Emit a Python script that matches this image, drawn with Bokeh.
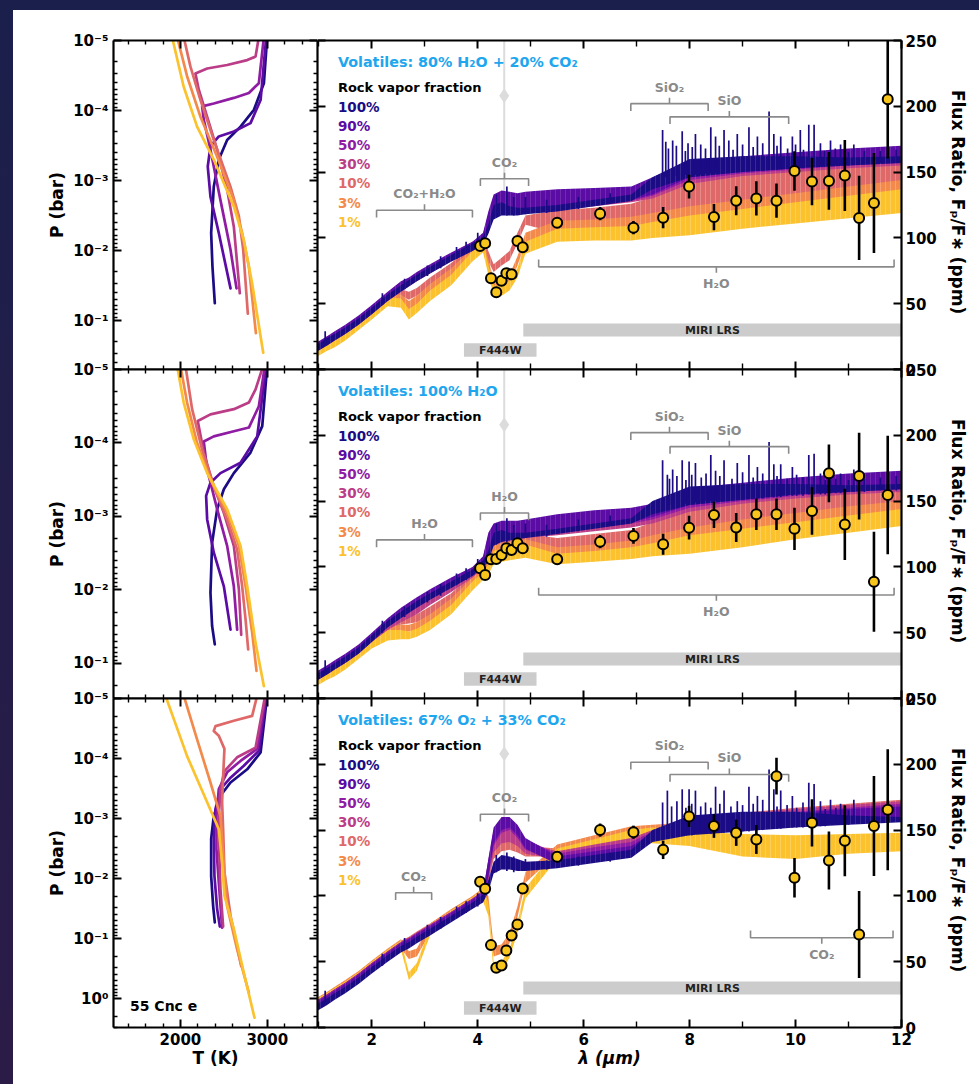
import numpy as np
from bokeh.plotting import figure
from bokeh.layouts import column, row
from bokeh.models import (Range1d, LinearAxis, LogAxis, FixedTicker,
                          CustomJSTickFormatter, Spacer, Label)
from bokeh.core.properties import value
from bokeh.embed import file_html
from bokeh.resources import INLINE

FONT = "DejaVu Sans"
FRACTIONS = ["100%", "90%", "50%", "30%", "10%", "3%", "1%"]
COLORS = ["#1b0c85", "#5b0ca4", "#8f1ca3", "#bc3d87", "#df6969", "#f38a4b", "#fbc22d"]
VOLATILES = ["Volatiles: 80% H\u2082O + 20% CO\u2082",
             "Volatiles: 100% H\u2082O",
             "Volatiles: 67% O\u2082 + 33% CO\u2082"]

# ---------------- pressure-temperature profiles (T in K, log10 P in bar)
TP1_T = [
    [2999, 2961, 2846, 2692, 2538, 2442, 2384, 2354, 2369, 2396],
    [2988, 2923, 2807, 2615, 2442, 2346, 2315, 2346, 2442, 2577],
    [2961, 2903, 2788, 2615, 2384, 2250, 2269, 2346, 2461, 2577, 2646],
    [2903, 2865, 2769, 2538, 2308, 2173, 2211, 2308, 2423, 2538, 2615, 2684],
    [2038, 2115, 2231, 2384, 2577, 2673, 2723, 2776],
    [1962, 2077, 2231, 2423, 2615, 2711, 2788, 2869],
    [1904, 2038, 2192, 2384, 2615, 2730, 2826, 2953],
]
TP1_LOGP = [
    [-5.05, -4.39, -4.01, -3.77, -3.58, -3.30, -2.91, -2.25, -1.77, -1.25],
    [-5.05, -4.15, -3.82, -3.70, -3.63, -3.49, -3.20, -2.77, -2.25, -1.46],
    [-5.05, -4.39, -4.25, -4.18, -4.10, -4.06, -3.87, -3.44, -2.72, -2.01, -1.46],
    [-5.05, -4.77, -4.72, -4.65, -4.60, -4.53, -4.30, -3.91, -3.44, -2.87, -2.34, -1.39],
    [-5.05, -4.63, -4.15, -3.58, -2.91, -2.49, -2.01, -1.10],
    [-5.05, -4.49, -3.91, -3.34, -2.72, -2.25, -1.77, -0.82],
    [-5.05, -4.34, -3.77, -3.30, -2.63, -2.15, -1.53, -0.54],
]
TP2_T = [
    [2999, 2942, 2807, 2615, 2500, 2423, 2365, 2346, 2365, 2396],
    [2988, 2884, 2692, 2461, 2346, 2296, 2308, 2384, 2500, 2577],
    [2972, 2903, 2788, 2615, 2384, 2269, 2308, 2423, 2538, 2615, 2653],
    [2953, 2865, 2788, 2615, 2346, 2200, 2269, 2384, 2500, 2615, 2673, 2700],
    [2058, 2135, 2250, 2384, 2538, 2653, 2711, 2750, 2780],
    [2000, 2077, 2192, 2346, 2538, 2673, 2750, 2826, 2876],
    [1962, 2038, 2154, 2308, 2538, 2692, 2769, 2865, 2961],
]
TP2_LOGP = [
    [-5.05, -4.23, -3.87, -3.59, -3.37, -3.10, -2.64, -1.96, -1.51, -1.26],
    [-5.05, -4.09, -3.73, -3.59, -3.46, -3.28, -2.96, -2.51, -2.05, -1.46],
    [-5.05, -4.50, -4.21, -4.16, -4.09, -4.02, -3.64, -3.10, -2.60, -2.05, -1.46],
    [-5.05, -4.73, -4.55, -4.46, -4.39, -4.30, -3.87, -3.41, -3.05, -2.60, -2.01, -1.39],
    [-5.05, -4.46, -3.91, -3.41, -2.96, -2.55, -2.05, -1.60, -1.19],
    [-5.05, -4.55, -4.00, -3.50, -3.05, -2.60, -2.05, -1.42, -0.90],
    [-5.05, -4.55, -4.05, -3.59, -3.10, -2.60, -2.05, -1.28, -0.69],
]
TP3_T = [
    [2999, 2923, 2769, 2577, 2461, 2384, 2354, 2354, 2377, 2396],
    [2992, 2903, 2730, 2577, 2461, 2404, 2384, 2392, 2423, 2454],
    [2984, 2884, 2692, 2538, 2442, 2415, 2415, 2442, 2480],
    [2976, 2865, 2653, 2507, 2461, 2442, 2446, 2461, 2492],
    [2884, 2826, 2615, 2404, 2384, 2442, 2507, 2492, 2480, 2492, 2507, 2577, 2700],
    [2038, 2192, 2346, 2461, 2492, 2538, 2653, 2788],
    [1827, 2077, 2308, 2442, 2480, 2507, 2615, 2730, 2853],
]
TP3_LOGP = [
    [-5.05, -4.10, -3.82, -3.60, -3.38, -3.04, -2.66, -2.04, -1.54, -1.27],
    [-5.05, -4.13, -3.88, -3.68, -3.49, -3.16, -2.66, -2.04, -1.49, -1.20],
    [-5.05, -4.16, -3.96, -3.77, -3.49, -3.04, -2.49, -1.93, -1.18],
    [-5.05, -4.18, -4.02, -3.79, -3.49, -3.04, -2.49, -1.82, -1.20],
    [-5.05, -4.71, -4.63, -4.54, -4.46, -4.38, -4.16, -3.71, -3.27, -2.82, -2.10, -1.38, -0.54],
    [-5.05, -4.32, -3.60, -3.04, -2.38, -1.54, -0.82, -0.10],
    [-5.05, -4.04, -3.27, -2.82, -2.27, -1.71, -1.16, -0.43, 0.32],
]
P_BOTTOM = [0.50, 0.30, 3.04]

# ---------------- model emission spectra: lower / upper envelope (ppm)
WL = [0.98, 1.15, 1.3, 1.5, 1.75, 2.0, 2.3, 2.55, 2.7, 2.85, 3.1, 3.5, 3.9,
      4.1, 4.2, 4.3, 4.45, 4.6, 4.75, 4.9, 5.5, 6.2, 6.9, 7.3, 8.0, 9.0,
      10.0, 11.0, 12.0]

SPEC1_LO = [
    [14, 18, 22, 27, 34, 42, 52, 59, 63, 67, 73, 82, 90, 95, 103, 114, 117, 117, 117, 118, 120, 124, 128, 137, 146, 150, 153, 155, 157],
    [15, 19, 23, 28, 35, 43, 53, 60, 64, 68, 74, 83, 91, 96, 108, 120, 122, 122, 122, 122, 123, 126, 129, 133, 146, 150, 153, 156, 158],
    [15, 19, 23, 28, 35, 43, 53, 60, 64, 68, 74, 83, 91, 96, 107, 119, 121, 121, 121, 121, 122, 125, 128, 132, 144, 149, 152, 155, 157],
    [14, 18, 22, 27, 34, 42, 52, 59, 63, 67, 73, 82, 90, 95, 104, 116, 119, 119, 119, 120, 121, 124, 127, 130, 141, 147, 150, 153, 155],
    [13, 17, 21, 26, 33, 41, 53, 56, 53, 56, 63, 74, 88, 96, 82, 74, 79, 83, 96, 110, 104, 105, 106, 108, 112, 118, 122, 126, 130],
    [12, 16, 20, 25, 32, 40, 51, 52, 45, 49, 58, 70, 85, 92, 76, 60, 59, 64, 79, 96, 101, 102, 103, 105, 107, 112, 116, 120, 124],
    [10, 14, 17, 22, 30, 38, 48, 47, 38, 43, 52, 64, 82, 89, 72, 56, 56, 60, 70, 88, 97, 98, 98, 100, 102, 107, 111, 115, 119],
]
SPEC1_HI = [
    [19, 24, 27, 32, 39, 47, 57, 64, 68, 72, 78, 87, 96, 101, 110, 125, 127, 124, 123, 123, 125, 129, 133, 146, 160, 162, 162, 161, 162],
    [21, 25, 29, 34, 41, 49, 59, 67, 70, 74, 80, 89, 97, 104, 120, 133, 136, 135, 134, 135, 137, 138, 139, 146, 158, 162, 165, 168, 170],
    [20, 24, 28, 33, 40, 48, 58, 66, 69, 73, 79, 88, 96, 103, 118, 131, 134, 133, 132, 133, 135, 136, 137, 143, 155, 160, 163, 166, 168],
    [20, 25, 28, 33, 40, 48, 58, 65, 69, 73, 79, 88, 97, 102, 116, 129, 132, 131, 130, 131, 132, 134, 135, 140, 152, 158, 161, 164, 166],
    [19, 24, 27, 32, 39, 47, 58, 61, 59, 62, 70, 81, 95, 102, 90, 80, 85, 90, 104, 117, 121, 123, 126, 131, 143, 148, 151, 154, 157],
    [18, 22, 26, 31, 38, 46, 57, 57, 52, 56, 65, 77, 92, 99, 84, 68, 66, 72, 86, 104, 113, 114, 116, 119, 124, 129, 134, 139, 144],
    [16, 21, 24, 29, 37, 45, 55, 54, 46, 50, 60, 72, 90, 96, 80, 64, 63, 68, 77, 97, 107, 108, 109, 112, 117, 122, 127, 132, 137],
]
SPEC2_LO = [
    [14, 18, 22, 27, 34, 43, 54, 61, 65, 69, 75, 84, 93, 99, 104, 116, 119, 120, 121, 122, 125, 129, 133, 140, 147, 151, 155, 157, 159],
    [15, 19, 23, 28, 35, 44, 55, 62, 66, 70, 76, 85, 94, 100, 110, 121, 123, 123, 124, 125, 127, 131, 134, 138, 147, 151, 155, 158, 160],
    [15, 19, 23, 28, 35, 44, 55, 62, 66, 70, 76, 85, 94, 100, 108, 119, 122, 122, 123, 124, 126, 130, 133, 136, 145, 150, 154, 157, 159],
    [14, 18, 22, 27, 34, 43, 52, 58, 61, 64, 71, 81, 92, 99, 106, 117, 120, 120, 121, 122, 124, 127, 130, 133, 142, 148, 152, 155, 157],
    [13, 17, 21, 26, 33, 42, 50, 56, 57, 58, 63, 73, 88, 96, 102, 110, 112, 113, 114, 115, 110, 112, 114, 116, 121, 127, 133, 138, 142],
    [12, 16, 20, 25, 32, 40, 47, 50, 51, 52, 58, 69, 85, 93, 98, 106, 108, 109, 110, 111, 105, 107, 109, 111, 114, 120, 125, 130, 135],
    [10, 14, 17, 22, 30, 38, 44, 45, 45, 47, 52, 64, 82, 90, 94, 102, 104, 105, 106, 107, 102, 104, 106, 108, 110, 115, 121, 126, 131],
]
SPEC2_HI = [
    [19, 23, 27, 32, 39, 48, 59, 66, 70, 74, 80, 89, 98, 105, 112, 126, 128, 126, 126, 126, 129, 133, 137, 150, 161, 163, 163, 162, 163],
    [21, 25, 29, 34, 41, 50, 61, 69, 73, 77, 83, 92, 100, 108, 126, 133, 135, 135, 135, 136, 140, 143, 145, 148, 160, 164, 168, 171, 173],
    [20, 24, 28, 33, 40, 49, 60, 68, 72, 76, 82, 91, 99, 107, 124, 131, 133, 133, 133, 134, 138, 141, 143, 146, 157, 162, 166, 169, 171],
    [20, 24, 28, 33, 40, 49, 58, 64, 67, 70, 77, 87, 98, 106, 121, 129, 131, 131, 131, 132, 135, 138, 140, 143, 154, 160, 164, 167, 169],
    [19, 23, 27, 32, 39, 48, 57, 62, 62, 64, 70, 80, 95, 103, 110, 120, 122, 123, 124, 125, 122, 125, 128, 134, 145, 149, 153, 156, 158],
    [18, 22, 26, 31, 38, 46, 54, 56, 56, 58, 64, 76, 92, 99, 106, 116, 118, 119, 120, 121, 115, 117, 120, 124, 130, 136, 141, 146, 150],
    [16, 20, 24, 29, 37, 45, 52, 52, 51, 53, 59, 71, 89, 96, 102, 112, 114, 115, 116, 117, 110, 112, 115, 118, 124, 129, 134, 139, 144],
]
SPEC3_LO = [
    [13, 17, 21, 26, 33, 41, 50, 57, 60, 64, 70, 80, 90, 95, 103, 117, 120, 120, 119, 119, 121, 125, 129, 141, 146, 149, 152, 154, 156],
    [14, 18, 22, 27, 34, 42, 51, 58, 61, 65, 71, 81, 91, 96, 115, 140, 150, 152, 146, 136, 124, 128, 132, 142, 147, 150, 153, 156, 158],
    [14, 18, 22, 27, 34, 42, 51, 58, 61, 65, 71, 81, 91, 96, 114, 138, 148, 150, 144, 135, 126, 131, 135, 143, 148, 151, 154, 157, 160],
    [15, 19, 23, 28, 35, 43, 52, 59, 62, 66, 72, 82, 92, 97, 112, 133, 140, 141, 138, 132, 128, 133, 138, 144, 149, 152, 155, 158, 161],
    [15, 19, 23, 28, 35, 43, 52, 59, 62, 66, 72, 82, 92, 97, 110, 128, 134, 135, 133, 130, 130, 136, 141, 145, 149, 153, 157, 160, 163],
    [15, 19, 23, 28, 35, 43, 52, 60, 52, 54, 72, 82, 92, 97, 90, 54, 56, 64, 84, 110, 132, 138, 144, 146, 148, 152, 156, 159, 162],
    [14, 18, 22, 27, 34, 42, 51, 59, 36, 43, 70, 81, 91, 96, 85, 43, 43, 53, 72, 98, 128, 134, 139, 140, 138, 130, 128, 132, 134],
]
SPEC3_HI = [
    [18, 22, 26, 31, 38, 46, 55, 62, 65, 69, 75, 85, 95, 101, 112, 126, 131, 130, 128, 126, 127, 131, 135, 150, 161, 164, 164, 161, 160],
    [20, 24, 28, 33, 40, 48, 57, 64, 67, 71, 77, 87, 97, 103, 128, 152, 160, 160, 154, 144, 130, 134, 138, 148, 156, 160, 163, 166, 168],
    [21, 25, 29, 34, 41, 49, 58, 65, 68, 72, 78, 88, 98, 104, 127, 150, 158, 158, 152, 143, 132, 137, 141, 149, 156, 161, 164, 167, 170],
    [21, 25, 29, 34, 41, 49, 58, 65, 68, 72, 78, 88, 98, 104, 124, 144, 150, 150, 146, 140, 134, 139, 144, 150, 157, 162, 166, 169, 172],
    [22, 26, 30, 35, 42, 50, 59, 66, 69, 73, 79, 89, 99, 105, 122, 138, 142, 142, 140, 138, 136, 142, 148, 152, 157, 163, 167, 170, 173],
    [23, 27, 31, 36, 43, 51, 60, 67, 58, 60, 79, 90, 100, 106, 100, 62, 63, 72, 92, 118, 139, 146, 153, 154, 156, 161, 165, 168, 171],
    [22, 26, 30, 35, 42, 50, 59, 66, 42, 49, 76, 89, 99, 105, 95, 50, 50, 60, 80, 106, 136, 143, 150, 152, 149, 147, 146, 147, 148],
]

# individual emission lines of the pure rock-vapour model: (wavelength, continuum, peak)
SPIKES1 = [(1.12, 18, 29), (2.2, 49, 58), (2.62, 61, 69), (3.05, 71, 79), (3.3, 77, 86),
           (3.6, 84, 93), (3.78, 88, 97), (4.0, 93, 104), (4.35, 116, 133), (4.55, 117, 139),
           (4.68, 117, 131), (4.9, 118, 131), (5.3, 119, 129), (5.9, 122, 131), (6.5, 126, 134),
           (7.49, 146, 182), (7.55, 146, 173), (7.60, 146, 168), (7.68, 147, 174), (7.75, 147, 170),
           (7.86, 147, 181), (7.92, 148, 166), (7.97, 148, 172), (8.05, 148, 169), (8.11, 148, 179),
           (8.21, 148, 171), (8.30, 149, 168), (8.40, 149, 184), (8.49, 149, 177), (8.56, 149, 170),
           (8.65, 150, 182), (8.74, 150, 174), (8.82, 150, 167), (8.90, 150, 179), (9.00, 150, 171),
           (9.12, 151, 184), (9.20, 151, 169), (9.28, 151, 177), (9.38, 151, 172), (9.50, 152, 196),
           (9.59, 152, 179), (9.65, 152, 170), (9.72, 152, 177), (9.85, 153, 168), (9.94, 153, 177),
           (10.00, 153, 171), (10.09, 153, 182), (10.15, 153, 167), (10.25, 154, 186), (10.35, 154, 186),
           (10.47, 154, 172), (10.55, 154, 166), (10.66, 155, 174), (10.75, 155, 168), (10.85, 155, 171),
           (11.00, 155, 165), (11.10, 156, 171), (11.30, 156, 166), (11.60, 157, 166), (11.90, 157, 167)]
SPIKES2 = [(1.12, 18, 29), (2.2, 50, 59), (2.62, 62, 70), (3.05, 73, 81), (3.3, 78, 87),
           (3.6, 86, 95), (3.78, 90, 99), (4.0, 96, 106), (4.35, 117, 133), (4.55, 119, 137),
           (4.68, 120, 132), (4.9, 122, 133), (5.3, 123, 132), (5.9, 127, 136), (6.5, 131, 139),
           (7.49, 147, 181), (7.58, 147, 170), (7.62, 147, 167), (7.68, 148, 174), (7.76, 148, 169),
           (7.86, 148, 181), (7.93, 148, 166), (7.99, 148, 180), (8.04, 149, 170), (8.11, 149, 179),
           (8.22, 149, 168), (8.31, 150, 171), (8.40, 150, 185), (8.49, 150, 173), (8.57, 150, 169),
           (8.65, 150, 181), (8.80, 151, 167), (8.90, 151, 179), (9.00, 151, 172), (9.12, 152, 185),
           (9.20, 152, 168), (9.28, 152, 176), (9.38, 152, 171), (9.50, 153, 195), (9.59, 153, 178),
           (9.65, 153, 169), (9.72, 153, 178), (9.84, 154, 167), (9.94, 154, 176), (10.02, 154, 170),
           (10.14, 154, 168), (10.25, 155, 185), (10.35, 155, 186), (10.47, 155, 171), (10.56, 155, 166),
           (10.66, 156, 174), (10.76, 156, 167), (10.85, 156, 171), (11.00, 157, 166), (11.10, 157, 174),
           (11.30, 157, 167), (11.60, 158, 168), (11.90, 158, 169)]
SPIKES3 = [(1.12, 17, 28), (2.2, 47, 56), (2.62, 59, 68), (3.05, 69, 78), (3.3, 75, 84),
           (3.6, 83, 92), (3.78, 87, 96), (4.0, 92, 102), (4.35, 118, 131), (4.55, 119, 133),
           (4.68, 118, 130), (4.9, 119, 128), (5.3, 120, 127), (5.9, 123, 130), (6.5, 126, 133),
           (7.49, 144, 171), (7.58, 145, 180), (7.66, 145, 168), (7.76, 145, 172), (7.86, 146, 181),
           (7.93, 146, 167), (7.99, 146, 181), (8.04, 146, 170), (8.11, 147, 180), (8.21, 147, 168),
           (8.30, 147, 171), (8.40, 147, 167), (8.49, 148, 183), (8.57, 148, 170), (8.65, 148, 180),
           (8.78, 148, 168), (8.90, 149, 172), (9.00, 149, 169), (9.12, 149, 183), (9.20, 150, 170),
           (9.28, 150, 176), (9.38, 150, 173), (9.50, 151, 196), (9.59, 151, 181), (9.65, 151, 168),
           (9.72, 151, 180), (9.84, 152, 169), (9.94, 152, 176), (10.02, 152, 167), (10.14, 152, 171),
           (10.25, 153, 186), (10.35, 153, 185), (10.47, 153, 172), (10.56, 153, 166), (10.66, 154, 173),
           (10.76, 154, 167), (10.85, 154, 170), (11.00, 154, 165), (11.10, 155, 173)]

# ---------------- observed eclipse depths (ppm)
OBS_WL = [4.045, 4.14, 4.25, 4.35, 4.45, 4.54, 4.64, 4.75, 4.85, 5.5, 6.31, 6.94,
          7.5, 7.99, 8.46, 8.88, 9.26, 9.64, 9.98, 10.31, 10.63, 10.93, 11.2, 11.48, 11.74]
OBS1 = [93.9, 95.9, 69.3, 58.7, 67.5, 73.1, 72.3, 97.7, 92.9, 111.6, 118.4, 107.8,
        115.4, 139.0, 115.8, 128.3, 130.0, 128.3, 150.9, 142.8, 143.3, 147.4, 115.2, 126.6, 205.3]
OBS1_ERR = [2.5, 2.5, 2.5, 2.5, 2.5, 2.5, 2.5, 2.5, 2.5, 4, 5, 5,
            8, 9, 10, 11, 13, 13, 15, 18, 22, 27, 32, 38, 45]
OBS2 = [98.9, 93.9, 105.8, 106.0, 109.0, 114.1, 112.9, 117.9, 114.1, 105.8, 119.2, 123.5,
        117.2, 129.8, 139.5, 130.0, 140.0, 140.0, 128.9, 142.5, 171.1, 132.3, 169.0, 88.8, 154.7]
OBS2_ERR = [2.5, 2.5, 2.5, 2.5, 2.5, 2.5, 2.5, 2.5, 2.5, 4, 5, 6,
            8, 9, 10, 11, 12, 12, 16, 18, 22, 27, 33, 38, 45]
OBS3 = [110.7, 105.4, 62.6, 45.4, 47.2, 58.5, 69.9, 78.3, 105.6, 129.7, 150.0, 148.4,
        135.0, 160.4, 153.1, 148.0, 142.9, 191.0, 113.8, 155.5, 126.9, 141.9, 70.7, 153.1, 165.5]
OBS3_ERR = [2.5, 2.5, 2.5, 2.5, 2.5, 2.5, 2.5, 2.5, 2.5, 4, 5, 5,
            7, 8, 9, 10, 11, 14, 15, 18, 22, 27, 33, 38, 46]
PHOT_WL, PHOT_VAL, PHOT_ERR = 4.5, 208.0, 88.0

# ---------------- molecular band markers: label, start, end, level (ppm), side
BANDS1 = [("CO\u2082+H\u2082O", 2.09, 3.90, 121, 1), ("CO\u2082", 4.05, 4.96, 145, 1),
          ("SiO\u2082", 6.89, 8.35, 202, 1), ("SiO", 7.63, 9.87, 192, 1),
          ("H\u2082O", 5.15, 11.86, 78, -1)]
BANDS2 = [("H\u2082O", 2.09, 3.90, 120.5, 1), ("H\u2082O", 4.05, 4.96, 141, 1),
          ("SiO\u2082", 6.89, 8.35, 202, 1), ("SiO", 7.63, 9.87, 191.4, 1),
          ("H\u2082O", 5.15, 11.86, 78.7, -1)]
BANDS3 = [("CO\u2082", 2.45, 3.13, 102.4, 1), ("CO\u2082", 4.05, 4.96, 162, 1),
          ("SiO\u2082", 6.89, 8.35, 201.6, 1), ("SiO", 7.63, 9.87, 192.3, 1),
          ("CO\u2082", 9.15, 11.84, 68.2, -1)]

TP_T = [TP1_T, TP2_T, TP3_T]
TP_LOGP = [TP1_LOGP, TP2_LOGP, TP3_LOGP]
SPEC_LO = [SPEC1_LO, SPEC2_LO, SPEC3_LO]
SPEC_HI = [SPEC1_HI, SPEC2_HI, SPEC3_HI]
SPIKES = [SPIKES1, SPIKES2, SPIKES3]
OBS = [(OBS1, OBS1_ERR), (OBS2, OBS2_ERR), (OBS3, OBS3_ERR)]
BANDS = [BANDS1, BANDS2, BANDS3]

# drawing order of the spectra: volatile-rich first, rock-rich on top
DRAW_ORDER = [4, 5, 6, 3, 2, 1, 0]

# ---------------- layout constants
TOP_STRIP, LEFT_STRIP, OVER = 10, 13, 10
FRAME_H = 329
BORDER_TOP = [30, OVER, OVER]
BORDER_BOTTOM = [OVER, OVER, 57]
GRAY = "#8a8a8a"
DARK = "#1b1f4b"

SUP = {"-": "\u207b", "0": "\u2070", "1": "\u00b9", "2": "\u00b2", "3": "\u00b3",
       "4": "\u2074", "5": "\u2075", "6": "\u2076", "7": "\u2077", "8": "\u2078", "9": "\u2079"}


def pow_formatter():
    table = ", ".join('"%s": "%s"' % (k, v) for k, v in SUP.items())
    return CustomJSTickFormatter(code="""
        const sup = {%s};
        const e = String(Math.round(Math.log10(tick)));
        return "10" + e.split("").map(c => sup[c]).join("");
    """ % table)


def add_axis(p, cls, side, ticks, minor, labelled=False, formatter=None,
             axis_label=None, label_style="bold", major_len=8, minor_len=4):
    ax = cls(ticker=FixedTicker(ticks=ticks, minor_ticks=minor))
    ax.axis_line_width = 2.2
    ax.axis_line_color = "black"
    ax.major_tick_line_width = 2
    ax.minor_tick_line_width = 1.4
    ax.major_tick_in, ax.major_tick_out = major_len, 0
    ax.minor_tick_in, ax.minor_tick_out = minor_len, 0
    if labelled:
        if formatter is not None:
            ax.formatter = formatter
        ax.major_label_text_font = FONT
        ax.major_label_text_font_size = "15px"
        ax.major_label_text_font_style = "bold"
        ax.major_label_text_color = "black"
        ax.major_label_standoff = 5
    else:
        ax.formatter = CustomJSTickFormatter(code="return '';")
        ax.major_label_text_font_size = "0px"
        ax.major_label_standoff = 0
    if axis_label:
        ax.axis_label = axis_label
        ax.axis_label_text_font = FONT
        ax.axis_label_text_font_size = "17px"
        ax.axis_label_text_font_style = label_style
        ax.axis_label_text_color = "black"
        ax.axis_label_standoff = 3
    p.add_layout(ax, side)
    return ax


def left_panel(r):
    p = figure(frame_width=204, frame_height=FRAME_H,
               x_range=Range1d(1230, 3578), y_range=Range1d(P_BOTTOM[r], 1e-5),
               y_axis_type="log", x_axis_location=None, y_axis_location=None,
               output_backend="svg", toolbar_location=None,
               min_border_left=100, min_border_right=0,
               min_border_top=BORDER_TOP[r], min_border_bottom=BORDER_BOTTOM[r])
    p.border_fill_alpha = 0
    p.background_fill_color = "white"
    p.outline_line_color = None
    p.grid.visible = False

    for i in range(7):
        pres = 10.0 ** np.array(TP_LOGP[r][i])
        p.line(TP_T[r][i], pres, line_color=COLORS[i], line_width=2.7,
               line_join="round", line_cap="round")

    decades = [1e-5, 1e-4, 1e-3, 1e-2, 1e-1, 1.0]
    minors = [m * 10.0 ** k for k in range(-5, 1) for m in range(2, 10)]
    t_major = [2000, 3000]
    t_minor = [1400, 1600, 1800, 2200, 2400, 2600, 2800, 3200, 3400]
    add_axis(p, LogAxis, "left", decades, minors, labelled=True,
             formatter=pow_formatter(), axis_label="P (bar)")
    add_axis(p, LogAxis, "right", decades, minors)
    add_axis(p, LinearAxis, "above", t_major, t_minor)
    if r == 2:
        ax = add_axis(p, LinearAxis, "below", t_major, t_minor, labelled=True,
                      axis_label="T (K)")
        ax.axis_label_standoff = 0
        p.add_layout(Label(x=1420, y=1.32, text="55 Cnc e", text_font=FONT,
                           text_font_size="14px", text_font_style="bold",
                           text_baseline="middle", text_color="black"))
    else:
        add_axis(p, LinearAxis, "below", t_major, t_minor)
    return p


def put_text(p, x, y, s, color, size, align="left", style="bold"):
    p.text(x=[x], y=[y], text=[s], text_color=color, text_font=value(FONT),
           text_font_size=size, text_font_style=style, text_align=align,
           text_baseline="middle")


def right_panel(r):
    p = figure(frame_width=584, frame_height=FRAME_H,
               x_range=Range1d(0.975, 12.0), y_range=Range1d(0, 250),
               x_axis_location=None, y_axis_location=None,
               output_backend="svg", toolbar_location=None,
               min_border_left=0, min_border_right=78,
               min_border_top=BORDER_TOP[r], min_border_bottom=BORDER_BOTTOM[r])
    p.border_fill_alpha = 0
    p.background_fill_color = "white"
    p.outline_line_color = None
    p.grid.visible = False

    # broadband photometric point behind the spectra
    p.segment(x0=[PHOT_WL], y0=[PHOT_VAL - PHOT_ERR], x1=[PHOT_WL], y1=[PHOT_VAL + PHOT_ERR],
              line_color="#dcdcdc", line_width=2)
    p.scatter([PHOT_WL], [PHOT_VAL], marker="diamond", size=15,
              fill_color="#dcdcdc", line_color=None)

    # instrument coverage
    p.quad(left=[3.74], right=[5.11], bottom=[9.7], top=[19.9],
           fill_color="#cccccc", line_color=None)
    p.quad(left=[4.86], right=[12.3], bottom=[25], top=[35],
           fill_color="#cccccc", line_color=None)
    put_text(p, 4.425, 14.8, "F444W", "#222222", "11px", align="center")
    put_text(p, 8.43, 30, "MIRI LRS", "#222222", "11px", align="center")

    # model spectra
    for i in DRAW_ORDER:
        p.varea(x=WL, y1=SPEC_LO[r][i], y2=SPEC_HI[r][i], fill_color=COLORS[i],
                hatch_pattern="vertical_line", hatch_color="white",
                hatch_alpha=0.22 if i >= 4 else 0.12, hatch_scale=5, hatch_weight=1)
    sw = [s[0] for s in SPIKES[r]]
    sb = [s[1] for s in SPIKES[r]]
    st = [s[2] for s in SPIKES[r]]
    p.segment(x0=sw, y0=sb, x1=sw, y1=st, line_color=COLORS[0], line_width=1.7)

    # molecular band brackets
    for label, x0, x1, y, d in BANDS[r]:
        xm = 0.5 * (x0 + x1)
        p.multi_line(xs=[[x0, x0, x1, x1], [xm, xm]],
                     ys=[[y - d * 5.5, y, y, y - d * 5.5], [y, y + d * 4.5]],
                     line_color=GRAY, line_width=1.6)
        put_text(p, xm, y + d * 12.5, label, GRAY, "12.5px", align="center")

    # legend
    put_text(p, 1.36, 233.5, VOLATILES[r], "#1ea6ee", "14.3px")
    put_text(p, 1.36, 214.6, "Rock vapor fraction", "black", "13px")
    ys = [199.7, 185.0, 170.6, 155.9, 141.4, 126.7, 112.2]
    for i in range(7):
        put_text(p, 1.36, ys[i], FRACTIONS[i], COLORS[i], "13.5px")

    # observations
    vals, errs = np.array(OBS[r][0]), np.array(OBS[r][1])
    p.segment(x0=OBS_WL, y0=vals - errs, x1=OBS_WL, y1=vals + errs,
              line_color="black", line_width=2.6)
    p.scatter(OBS_WL, vals, size=10, fill_color="#f7c51c", line_color="black",
              line_width=2)

    y_major = [0, 50, 100, 150, 200, 250]
    x_major = [2, 4, 6, 8, 10, 12]
    x_minor = [1, 3, 5, 7, 9, 11]
    add_axis(p, LinearAxis, "left", y_major, [])
    ax = add_axis(p, LinearAxis, "right", y_major, [], labelled=True,
                  axis_label="Flux Ratio,  F\u209a/F\u2217 (ppm)")
    ax.major_label_standoff = 4
    ax.axis_label_standoff = 8
    add_axis(p, LinearAxis, "above", x_major, x_minor, minor_len=6)
    if r == 2:
        bx = add_axis(p, LinearAxis, "below", x_major, x_minor, labelled=True,
                      axis_label="\u03bb (\u03bcm)", label_style="bold italic",
                      minor_len=6)
        bx.axis_label_standoff = 0
    else:
        add_axis(p, LinearAxis, "below", x_major, x_minor, minor_len=6)
    return p


rows = []
for r in range(3):
    rw = row(left_panel(r), right_panel(r))
    if r > 0:
        rw.margin = (-2 * OVER, 0, 0, 0)
    rows.append(rw)

grid = column(*rows, styles={"background-color": "white"})
root = column(
    Spacer(width=979, height=TOP_STRIP, styles={"background-color": DARK}),
    row(Spacer(width=LEFT_STRIP, height=1084 - TOP_STRIP,
               styles={"background": "linear-gradient(#1b1f4b, #2b1b47)"}),
        grid),
)

open("out.html", "w").write(file_html(root, INLINE))
